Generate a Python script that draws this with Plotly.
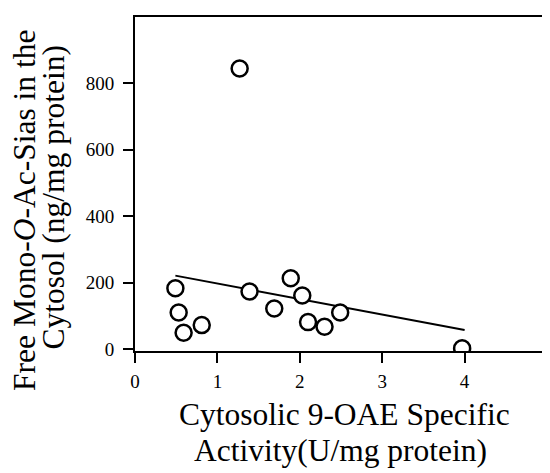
import plotly.graph_objects as go

# Data
activity = [1.27, 0.49, 0.53, 0.59, 0.81, 1.39, 1.69, 1.89, 2.03, 2.10, 2.30, 2.49, 3.97]
free_sias = [845, 183, 110, 49, 72, 173, 122, 213, 161, 81, 67, 110, 2]

fit_x = [0.49, 4.0]
fit_y = [221, 57]

x_ticks = [0, 1, 2, 3, 4, 5]
y_ticks = [0, 200, 400, 600, 800]

FONT = "Liberation Serif"

fig = go.Figure()
fig.add_trace(go.Scatter(
    x=fit_x, y=fit_y, mode="lines",
    line=dict(color="black", width=2),
    showlegend=False, hoverinfo="skip"))
fig.add_trace(go.Scatter(
    x=activity, y=free_sias, mode="markers",
    marker=dict(symbol="circle", size=16, color="white",
                line=dict(color="black", width=2.5)),
    showlegend=False))

# the page body has an 8px default margin; compensate so the plot lands where the reference has it
fig.update_layout(
    width=550, height=473,
    margin=dict(l=126.5, r=10, t=6.5, b=130, pad=0),
    plot_bgcolor="white", paper_bgcolor="white",
    font=dict(family=FONT, color="black", size=19),
    xaxis=dict(range=[0, 5], tickvals=x_ticks, ticktext=[str(v) for v in x_ticks],
               showgrid=False, zeroline=False, showline=True, mirror=True,
               linecolor="black", linewidth=2, ticks="outside", ticklen=10,
               tickwidth=2, tickcolor="black", ticklabelstandoff=2,
               tickfont=dict(size=19, family=FONT, color="black")),
    yaxis=dict(range=[-6, 1000], tickvals=y_ticks, ticktext=[str(v) for v in y_ticks],
               showgrid=False, zeroline=False, showline=True, mirror=True,
               linecolor="black", linewidth=2, ticks="outside", ticklen=10,
               tickwidth=2, tickcolor="black", ticklabelstandoff=5,
               tickfont=dict(size=19, family=FONT, color="black")),
)

ann = dict(xref="paper", yref="paper", showarrow=False,
           font=dict(family=FONT, size=31.5, color="black"),
           xanchor="center", yanchor="middle")
fig.add_annotation(text="Cytosolic 9-OAE Specific", x=0.509, y=-0.19, **ann)
fig.add_annotation(text="Activity(U/mg protein)", x=0.498, y=-0.297, **ann)
fig.add_annotation(text="Free Mono-<i>O</i>-Ac-Sias in the", x=-0.2697, y=0.422,
                   textangle=-90, **ann)
fig.add_annotation(text="Cytosol (ng/mg protein)", x=-0.197, y=0.459,
                   textangle=-90, **ann)

fig.write_html("out.html")
